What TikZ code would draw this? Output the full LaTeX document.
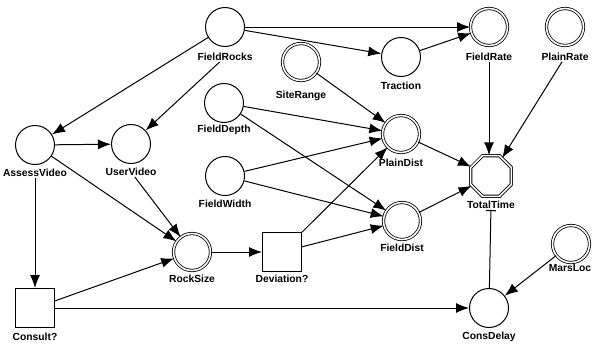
\documentclass[tikz,border=0pt]{standalone}
\usepackage{fontspec}
\setmainfont{Liberation Sans}
\usetikzlibrary{arrows.meta,shapes.geometric}
\tikzset{
  plain/.style={circle,draw,line width=1pt,minimum size=39pt,inner sep=0pt},
  dbl/.style={circle,draw,line width=0.8pt,double,double distance=1.6pt,minimum size=37pt,inner sep=0pt},
  sq/.style={rectangle,draw,line width=1pt,minimum size=39pt,inner sep=0pt},
  oct/.style={regular polygon,regular polygon sides=8,draw,line width=0.8pt,double,double distance=1.6pt,minimum size=44pt,inner sep=0pt},
  lbl/.style={font=\bfseries\fontsize{10.3}{11}\selectfont,inner sep=1pt},
  arr/.style={line width=1pt,-{Latex[length=13pt,width=10pt]}},
  barline/.style={line width=1pt,-{Bar[width=10pt,line width=1.2pt]}}
}
\begin{document}
\begin{tikzpicture}[x=1pt,y=-1pt]
\useasboundingbox (0,0) rectangle (593,343);
% nodes
\node[plain] (FR) at (225,27) {};
\node[lbl] (FRl) at (225,57) {FieldRocks};
\node[plain] (AV) at (35,145) {};
\node[lbl] (AVl) at (35,173) {AssessVideo};
\node[plain] (UV) at (131,144) {};
\node[lbl] (UVl) at (131,172) {UserVideo};
\node[plain] (FD) at (224,103) {};
\node[lbl] (FDl) at (224,130) {FieldDepth};
\node[plain] (FW) at (225,176) {};
\node[lbl] (FWl) at (225,204) {FieldWidth};
\node[dbl] (SR) at (301,62) {};
\node[lbl] (SRl) at (301,96) {SiteRange};
\node[plain] (TR) at (401,57) {};
\node[lbl] (TRl) at (401,86) {Traction};
\node[dbl] (FRate) at (489,27) {};
\node[lbl] (FRatel) at (489,57) {FieldRate};
\node[dbl] (PRate) at (565,27) {};
\node[lbl] (PRatel) at (565,57) {PlainRate};
\node[dbl] (PD) at (401,134) {};
\node[lbl] (PDl) at (401,163) {PlainDist};
\node[oct] (TT) at (491,176) {};
\node[lbl] (TTl) at (491,205) {TotalTime};
\node[dbl] (FDist) at (402,221) {};
\node[lbl] (FDistl) at (402,248) {FieldDist};
\node[dbl] (RS) at (192,252) {};
\node[lbl] (RSl) at (192,279) {RockSize};
\node[sq] (DV) at (282,252) {};
\node[lbl] (DVl) at (282,279) {Deviation?};
\node[sq] (CO) at (35,308) {};
\node[lbl] (COl) at (35,337) {Consult?};
\node[plain] (CD) at (489,308) {};
\node[lbl] (CDl) at (489,337) {ConsDelay};
\node[dbl] (ML) at (571,244) {};
\node[lbl] (MLl) at (570,268) {MarsLoc};
% edges
\draw[arr] (FR) -- (AV);
\draw[arr] (FRl) -- (UV);
\draw[arr] (FR.east) -- (FRate);
\draw[arr] (FR) -- (TR);
\draw[arr] (TR) -- (FRate);
\draw[arr] (AV) -- (UV);
\draw[arr] (AV) -- (RS);
\draw[arr] (AVl) -- (CO);
\draw[arr] (UVl) -- (RS);
\draw[arr] (CO) -- (RS);
\draw[arr] (CO) -- (CD);
\draw[arr] (RS) -- (DV);
\draw[arr] (DV) -- (PD);
\draw[arr] (DV) -- (FDist);
\draw[arr] (SR) -- (PD);
\draw[arr] (FD) -- (PD);
\draw[arr] (FD) -- (FDist);
\draw[arr] (FW) -- (PD);
\draw[arr] (FW) -- (FDist);
\draw[arr] (PD) -- (TT);
\draw[arr] (FDist) -- (TT);
\draw[arr] (FRatel) -- (FRatel |- TT.north);
\draw[arr] (PRatel) -- (TT);
\draw[barline] (CD) -- (TTl);
\draw[arr] (ML) -- (CD);
\end{tikzpicture}
\end{document}
